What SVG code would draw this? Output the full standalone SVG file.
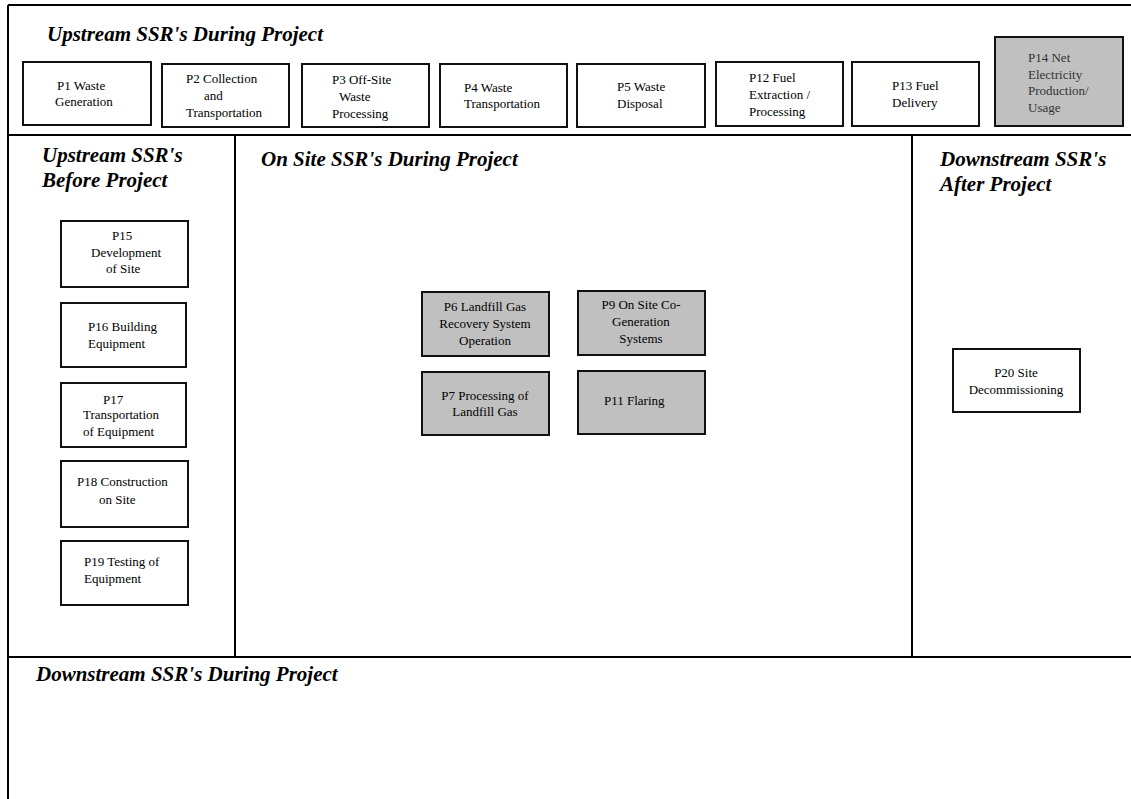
<svg xmlns="http://www.w3.org/2000/svg" width="1131" height="799" viewBox="0 0 1131 799">
<style>
.frame{stroke:#000;stroke-width:2;fill:none}
.box{fill:#fff;stroke:#111;stroke-width:2}
.gray{fill:#c0c0c0;stroke:#111;stroke-width:2}
.t{font-family:"Liberation Serif","Times New Roman",serif;font-size:13px;fill:#000}
.tg{font-family:"Liberation Serif","Times New Roman",serif;font-size:13px;fill:#333}
.h{font-family:"Liberation Serif","Times New Roman",serif;font-size:21px;font-weight:bold;font-style:italic;fill:#000}
</style>
<rect width="1131" height="799" fill="#fff"/>
<g id="frame">
<line class="frame" x1="8" y1="5" x2="1131" y2="5"/>
<line class="frame" x1="8" y1="5" x2="8" y2="799"/>
<line class="frame" x1="8" y1="135" x2="1131" y2="135"/>
<line class="frame" x1="235" y1="135" x2="235" y2="657"/>
<line class="frame" x1="912" y1="135" x2="912" y2="657"/>
<line class="frame" x1="8" y1="657" x2="1131" y2="657"/>
</g>
<g id="titles">
<text class="h" x="47" y="41">Upstream SSR's During Project</text>
<text class="h" x="42" y="162">Upstream SSR's</text>
<text class="h" x="42" y="187">Before Project</text>
<text class="h" x="261" y="166">On Site SSR's During Project</text>
<text class="h" x="940" y="166">Downstream SSR's</text>
<text class="h" x="940" y="191">After Project</text>
<text class="h" x="36" y="681">Downstream SSR's During Project</text>
</g>
<g id="connectors"></g>
<g id="P1"><rect class="box" x="23" y="62" width="128" height="63"/>
<text class="t" x="57" y="90">P1 Waste</text><text class="t" x="55" y="106">Generation</text></g>
<g id="P2"><rect class="box" x="162" y="64" width="127" height="63"/>
<text class="t" x="186" y="83">P2 Collection</text><text class="t" x="204" y="100">and</text><text class="t" x="186" y="117">Transportation</text></g>
<g id="P3"><rect class="box" x="302" y="64" width="127" height="63"/>
<text class="t" x="332" y="84">P3 Off-Site</text><text class="t" x="339" y="101">Waste</text><text class="t" x="332" y="118">Processing</text></g>
<g id="P4"><rect class="box" x="440" y="64" width="127" height="63"/>
<text class="t" x="464" y="92">P4 Waste</text><text class="t" x="464" y="108">Transportation</text></g>
<g id="P5"><rect class="box" x="577" y="64" width="128" height="63"/>
<text class="t" x="617" y="91">P5 Waste</text><text class="t" x="617" y="108">Disposal</text></g>
<g id="P12"><rect class="box" x="716" y="62" width="127" height="64"/>
<text class="t" x="749" y="82">P12 Fuel</text><text class="t" x="749" y="99">Extraction /</text><text class="t" x="749" y="116">Processing</text></g>
<g id="P13"><rect class="box" x="852" y="62" width="127" height="64"/>
<text class="t" x="892" y="90">P13 Fuel</text><text class="t" x="892" y="107">Delivery</text></g>
<g id="P14"><rect class="gray" x="995" y="37" width="128" height="89"/>
<text class="tg" x="1028" y="62">P14 Net</text><text class="tg" x="1028" y="79">Electricity</text><text class="tg" x="1028" y="95">Production/</text><text class="tg" x="1028" y="112">Usage</text></g>
<g id="P15"><rect class="box" x="61" y="221" width="127" height="66"/>
<text class="t" x="112" y="240">P15</text><text class="t" x="91" y="257">Development</text><text class="t" x="106" y="273">of Site</text></g>
<g id="P16"><rect class="box" x="61" y="303" width="125" height="64"/>
<text class="t" x="88" y="331">P16 Building</text><text class="t" x="88" y="348">Equipment</text></g>
<g id="P17"><rect class="box" x="61" y="383" width="125" height="64"/>
<text class="t" x="103" y="404">P17</text><text class="t" x="83" y="419">Transportation</text><text class="t" x="83" y="436">of Equipment</text></g>
<g id="P18"><rect class="box" x="61" y="461" width="127" height="66"/>
<text class="t" x="77" y="486">P18 Construction</text><text class="t" x="99" y="504">on Site</text></g>
<g id="P19"><rect class="box" x="61" y="541" width="127" height="64"/>
<text class="t" x="84" y="566">P19 Testing of</text><text class="t" x="84" y="583">Equipment</text></g>
<g id="P6"><rect class="gray" x="422" y="292" width="127" height="64"/>
<text class="t" x="485" y="311" text-anchor="middle">P6 Landfill Gas</text><text class="t" x="485" y="328" text-anchor="middle">Recovery System</text><text class="t" x="485" y="345" text-anchor="middle">Operation</text></g>
<g id="P9"><rect class="gray" x="578" y="291" width="127" height="64"/>
<text class="t" x="641" y="309" text-anchor="middle">P9 On Site Co-</text><text class="t" x="641" y="326" text-anchor="middle">Generation</text><text class="t" x="641" y="343" text-anchor="middle">Systems</text></g>
<g id="P7"><rect class="gray" x="422" y="372" width="127" height="63"/>
<text class="t" x="485" y="400" text-anchor="middle">P7 Processing of</text><text class="t" x="485" y="416" text-anchor="middle">Landfill Gas</text></g>
<g id="P11"><rect class="gray" x="578" y="371" width="127" height="63"/>
<text class="t" x="604" y="405">P11 Flaring</text></g>
<g id="P20"><rect class="box" x="953" y="349" width="127" height="63"/>
<text class="t" x="1016" y="377" text-anchor="middle">P20 Site</text><text class="t" x="1016" y="394" text-anchor="middle">Decommissioning</text></g>
</svg>
